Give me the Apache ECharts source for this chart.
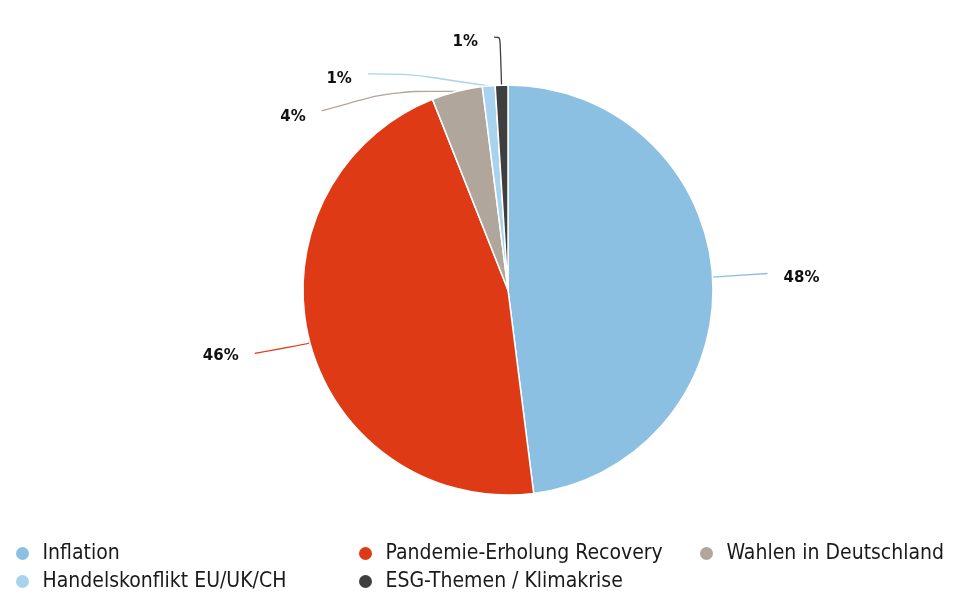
<!DOCTYPE html>
<html>
<head>
<meta charset="utf-8">
<script src="https://cdn.jsdelivr.net/npm/echarts@6/dist/echarts.min.js"></script>
<style>html,body{margin:0;padding:0;background:#fff}#c{width:960px;height:609px}</style>
</head>
<body>
<div id="c"></div>
<script>
var categories = ['Inflation', 'Pandemie-Erholung Recovery', 'Wahlen in Deutschland', 'Handelskonflikt EU/UK/CH', 'ESG-Themen / Klimakrise'];
var values = [48, 46, 4, 1, 1];
var colors = ['#8cc0e3', '#df3a16', '#b1a69c', '#a8d3ee', '#3f3f3f'];
var lineLen = [10, 10, 8, 12, 48];
var lineLen2 = [45, 61, 70, 42, 6];
var labelShiftY = [2, 13, 26, 5, 5];
var lineShiftY = [-3, 10, 20, 0, 0];

var chart = echarts.init(document.getElementById('c'));
var legendText = {fontFamily: '"DejaVu Sans Condensed", sans-serif', fontSize: 21, color: '#1a1a1a'};
function mkLegend(left, names) {
  return {
    orient: 'vertical', left: left, top: 543, itemGap: 7,
    icon: 'circle', itemWidth: 30, itemHeight: 15, padding: 0,
    textStyle: legendText, data: names, selectedMode: false
  };
}
chart.setOption({
  animation: false,
  color: colors,
  legend: [
    mkLegend(14, [categories[0], categories[3]]),
    mkLegend(357, [categories[1], categories[4]]),
    mkLegend(698, [categories[2]])
  ],
  series: [{
    type: 'pie',
    center: [508, 290],
    radius: [0, 205],
    startAngle: 90,
    clockwise: true,
    data: categories.map(function (n, i) {
      return {name: n, value: values[i], labelLine: {length: lineLen[i], length2: lineLen2[i]}};
    }),
    itemStyle: {borderColor: '#fff', borderWidth: 1.5},
    label: {
      show: true,
      distanceToLabelLine: 16,
      formatter: function (p) { return Math.round(p.percent) + '%'; },
      fontFamily: '"DejaVu Sans", sans-serif', fontWeight: 'bold', fontSize: 15, color: '#111'
    },
    labelLayout: function (p) {
      var i = p.dataIndex;
      var out = {dy: labelShiftY[i]};
      var pts = p.labelLinePoints;
      if (pts && pts.length === 3) {
        out.labelLinePoints = [
          [pts[0][0], pts[0][1]],
          [pts[1][0], pts[1][1]],
          [pts[2][0], pts[2][1] + lineShiftY[i]]
        ];
      }
      return out;
    },
    labelLine: {show: true, smooth: 0.3, lineStyle: {width: 1.3}},
    emphasis: {disabled: true}
  }]
});
</script>
</body>
</html>
